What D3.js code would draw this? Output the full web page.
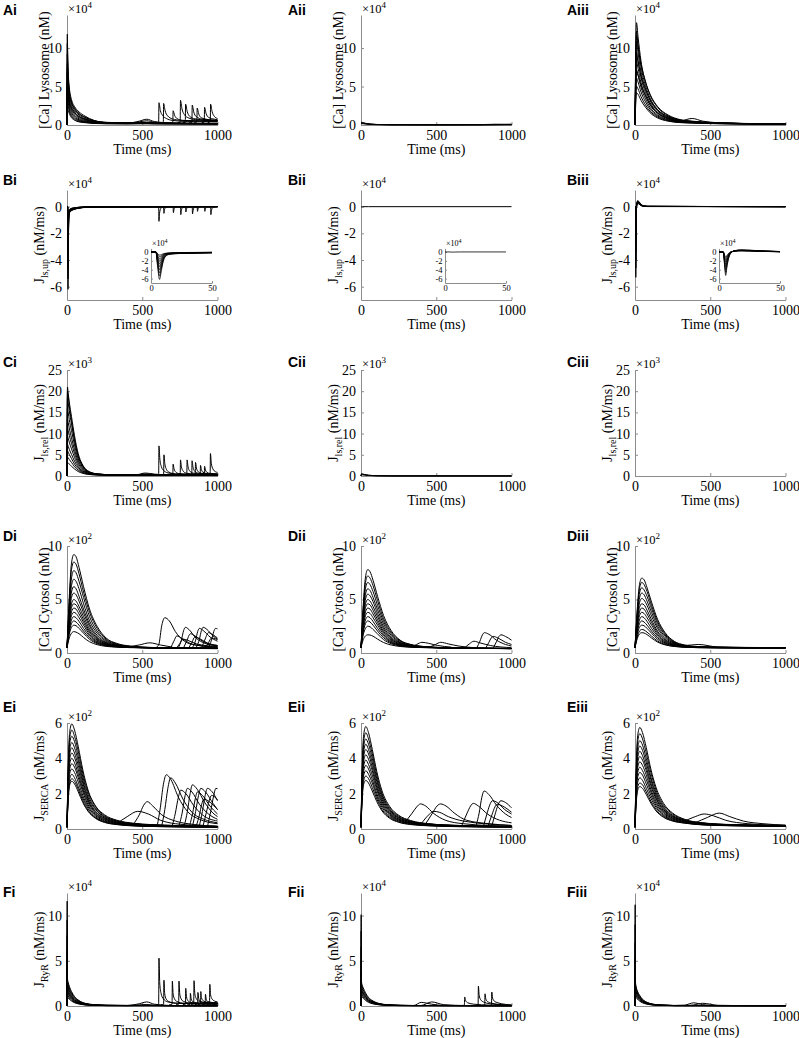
<!DOCTYPE html>
<html><head><meta charset="utf-8">
<script src="https://cdn.jsdelivr.net/npm/d3@7"></script>
<style>
body{margin:0;background:#fff}svg{display:block}
.serif{font-family:"Liberation Serif","Times New Roman","DejaVu Serif",serif}
.sans{font-family:"Liberation Sans",Arial,"DejaVu Sans",sans-serif}
</style>
</head><body><svg id="fig" width="799" height="1038"></svg>
<script>
// ---------------- DATA ----------------
const xTicks = [0, 500, 1000];
const insetXTicks = [0, 50];
const insetYTicks = [0, -2, -4, -6];
const rowLetters = ["A", "B", "C", "D", "E", "F"];
const colNumerals = ["i", "ii", "iii"];
const rowDomains = [[0, 14.3], [-7, 1.25], [0, 25], [0, 10], [0, 6], [0, 12.5]];
const rowTicks = [[0, 5, 10], [0, -2, -4, -6], [0, 5, 10, 15, 20, 25], [0, 5, 10], [0, 2, 4, 6], [0, 5, 10]];
const rowExponent = [4, 4, 3, 2, 2, 4];
const rowYLabelMain = ["[Ca] Lysosome (nM)", "J", "J", "[Ca] Cytosol (nM)", "J", "J"];
const rowYLabelSub = [null, "ls,up", "ls,rel", null, "SERCA", "RyR"];
const xLabel = "Time (ms)";

// ---- A: lysosome Ca (x10^4 nM)
const Ai_t = [0, 2, 4, 8, 15, 30, 50, 80, 120, 180, 260, 400, 480, 530, 580, 700, 850, 1000];
const Ai_traces = [
  [0, 11.8, 10, 7, 5, 3.3, 2.4, 1.7, 1.15, 0.6, 0.35, 0.28, 0.32, 0.35, 0.3, 0.25, 0.22, 0.2],
  [0, 10.6, 9, 6.4, 4.5, 3.0, 2.2, 1.5, 1.0, 0.55, 0.32, 0.26, 0.3, 0.3, 0.28, 0.24, 0.2, 0.2],
  [0, 9.2, 8, 5.8, 4.0, 2.7, 1.9, 1.3, 0.85, 0.48, 0.3, 0.25, 0.5, 0.75, 0.45, 0.25, 0.2, 0.18],
  [0, 8, 7, 5.2, 3.6, 2.4, 1.7, 1.1, 0.75, 0.42, 0.28, 0.24, 0.28, 0.3, 0.28, 0.22, 0.2, 0.18],
  [0, 6.8, 6, 4.6, 3.2, 2.1, 1.45, 0.95, 0.65, 0.38, 0.26, 0.22, 0.25, 0.27, 0.25, 0.2, 0.18, 0.16],
  [0, 5.6, 5, 4.0, 2.8, 1.85, 1.25, 0.8, 0.55, 0.33, 0.24, 0.2, 0.4, 0.55, 0.35, 0.2, 0.18, 0.16],
  [0, 4.6, 4.2, 3.4, 2.45, 1.6, 1.05, 0.68, 0.47, 0.3, 0.22, 0.2, 0.22, 0.22, 0.2, 0.18, 0.16, 0.15],
  [0, 3.6, 3.4, 2.9, 2.1, 1.35, 0.9, 0.58, 0.4, 0.26, 0.2, 0.18, 0.2, 0.2, 0.18, 0.16, 0.15, 0.14],
  [0, 2.8, 2.7, 2.4, 1.8, 1.15, 0.75, 0.48, 0.34, 0.23, 0.18, 0.16, 0.18, 0.18, 0.16, 0.15, 0.14, 0.13],
  [0, 2.0, 2.0, 1.9, 1.5, 0.95, 0.62, 0.4, 0.3, 0.2, 0.16, 0.15, 0.16, 0.16, 0.15, 0.14, 0.13, 0.12],
  [0, 7.4, 6.6, 5.4, 4.1, 2.9, 2.1, 1.45, 1.0, 0.55, 0.33, 0.26, 0.3, 0.3, 0.28, 0.22, 0.2, 0.18],
  [0, 5.0, 4.6, 3.9, 3.0, 2.2, 1.6, 1.1, 0.75, 0.42, 0.27, 0.22, 0.25, 0.26, 0.24, 0.2, 0.18, 0.16]
];
const Ai_events = [
  [[590,0.3],[609,0.35],[611,2.9],[620,1.9],[635,1.25],[660,0.85],[700,0.6],[800,0.45],[1000,0.4]],
  [[620,0.3],[640,0.35],[642,2.8],[652,1.85],[668,1.2],[700,0.8],[760,0.6],[1000,0.45]],
  [[685,0.3],[703,0.35],[705,1.85],[715,1.25],[730,0.85],[770,0.6],[1000,0.5]],
  [[735,0.3],[752,0.35],[754,3.2],[764,2.1],[780,1.35],[810,0.9],[870,0.65],[1000,0.55]],
  [[770,0.3],[786,0.35],[788,2.7],[798,1.8],[814,1.15],[850,0.8],[1000,0.55]],
  [[812,0.3],[830,0.35],[832,2.6],[842,1.7],[858,1.1],[900,0.75],[1000,0.6]],
  [[845,0.3],[863,0.4],[865,2.2],[875,1.45],[892,0.95],[940,0.7],[1000,0.6]],
  [[895,0.3],[912,0.4],[914,2.3],[924,1.5],[940,1.0],[980,0.75],[1000,0.7]],
  [[935,0.3],[952,0.45],[954,2.7],[964,1.75],[980,1.1],[1000,0.85]]
];
const Aii_t = [0, 5, 15, 30, 60, 100, 200, 400, 600, 800, 900, 1000];
const Aii_traces = [
  [0.3, 0.35, 0.3, 0.22, 0.12, 0.07, 0.04, 0.03, 0.03, 0.05, 0.1, 0.06],
  [0.2, 0.25, 0.22, 0.16, 0.1, 0.06, 0.03, 0.03, 0.03, 0.03, 0.04, 0.08],
  [0.15, 0.18, 0.16, 0.12, 0.07, 0.05, 0.03, 0.02, 0.02, 0.02, 0.03, 0.03],
  [0.25, 0.3, 0.26, 0.2, 0.12, 0.07, 0.04, 0.03, 0.03, 0.04, 0.06, 0.1]
];
const Aii_events = [];
const Aiii_t = [0, 4, 10, 20, 40, 70, 100, 150, 220, 300, 380, 450, 550, 700, 1000];
const Aiii_traces = [
  [0, 8, 13.3, 11.5, 8.3, 5.6, 3.9, 2.3, 1.2, 0.65, 0.45, 0.35, 0.28, 0.2, 0.15],
  [0, 7, 12.2, 10.5, 7.6, 5.1, 3.5, 2.0, 1.05, 0.6, 0.45, 0.33, 0.26, 0.2, 0.14],
  [0, 6.2, 10.8, 9.4, 6.9, 4.7, 3.2, 1.85, 0.95, 0.55, 0.85, 0.5, 0.3, 0.2, 0.14],
  [0, 5.4, 9.5, 8.4, 6.2, 4.2, 2.9, 1.65, 0.85, 0.5, 0.4, 0.3, 0.24, 0.18, 0.13],
  [0, 4.7, 8.3, 7.4, 5.5, 3.8, 2.6, 1.5, 0.78, 0.45, 0.36, 0.28, 0.22, 0.17, 0.12],
  [0, 4.1, 7.2, 6.5, 4.9, 3.4, 2.3, 1.32, 0.7, 0.42, 0.33, 0.26, 0.2, 0.16, 0.12],
  [0, 3.5, 6.1, 5.6, 4.3, 3.0, 2.05, 1.18, 0.62, 0.38, 0.3, 0.24, 0.19, 0.15, 0.11],
  [0, 2.9, 5.0, 4.7, 3.7, 2.6, 1.8, 1.04, 0.55, 0.34, 0.27, 0.22, 0.18, 0.14, 0.1],
  [0, 2.4, 4.2, 4.0, 3.2, 2.3, 1.6, 0.92, 0.5, 0.31, 0.25, 0.2, 0.17, 0.13, 0.1],
  [0, 6.6, 11.6, 10.2, 7.9, 5.6, 4.0, 2.4, 1.3, 0.7, 0.5, 0.38, 0.3, 0.21, 0.15],
  [0, 5.0, 9.0, 8.2, 6.4, 4.6, 3.3, 2.0, 1.1, 0.62, 0.46, 0.36, 0.28, 0.2, 0.14],
  [0, 3.8, 7.0, 6.5, 5.2, 3.8, 2.7, 1.6, 0.9, 0.52, 0.42, 0.32, 0.25, 0.18, 0.13]
];
const Aiii_events = [];

// ---- B: J_ls,up (x10^4 nM/ms)
const Bi_t = [0, 4, 5.5, 7, 8.5, 10, 12, 15, 20, 30, 50, 80, 130, 200, 1000];
const Bi_traces = [
  [0, 0, -3.5, -6.2, -4.2, -2.2, -1.0, -0.55, -0.4, -0.3, -0.2, -0.12, -0.05, -0.02, 0],
  [0, 0, -3.0, -5.4, -3.7, -1.9, -0.9, -0.5, -0.38, -0.28, -0.18, -0.1, -0.04, -0.02, 0],
  [0, 0, -2.6, -4.7, -3.2, -1.7, -0.8, -0.45, -0.35, -0.26, -0.17, -0.1, -0.04, -0.02, 0],
  [0, 0, -2.2, -4.0, -2.8, -1.5, -0.72, -0.42, -0.33, -0.24, -0.16, -0.09, -0.04, -0.02, 0],
  [0, 0, -1.8, -3.3, -2.3, -1.25, -0.62, -0.38, -0.3, -0.22, -0.14, -0.08, -0.03, -0.01, 0],
  [0, 0, -1.5, -2.7, -1.9, -1.05, -0.55, -0.35, -0.28, -0.2, -0.13, -0.07, -0.03, -0.01, 0],
  [0, 0, -1.2, -2.1, -1.5, -0.85, -0.48, -0.32, -0.25, -0.18, -0.12, -0.06, -0.03, -0.01, 0],
  [0, 0, -0.9, -1.6, -1.15, -0.7, -0.42, -0.3, -0.22, -0.16, -0.1, -0.05, -0.02, -0.01, 0],
  [0, 0, -0.6, -1.1, -0.85, -0.55, -0.36, -0.26, -0.2, -0.14, -0.09, -0.05, -0.02, -0.01, 0],
  [0, 0, -0.4, -0.7, -0.6, -0.42, -0.3, -0.22, -0.17, -0.12, -0.08, -0.04, -0.02, 0, 0]
];
const Bi_events = [
  [[597,0],[609,-0.02],[611,-1.1],[615,-0.5],[623,-0.13],[645,0]],
  [[630,0],[642,-0.02],[644,-0.5],[648,-0.22],[656,-0.06],[677,0]],
  [[693,0],[705,-0.02],[707,-0.45],[711,-0.2],[719,-0.05],[740,0]],
  [[742,0],[754,-0.02],[756,-0.6],[760,-0.27],[768,-0.07],[789,0]],
  [[776,0],[788,-0.02],[790,-0.4],[794,-0.18],[802,-0.05],[823,0]],
  [[820,0],[832,-0.02],[834,-0.55],[838,-0.25],[846,-0.07],[867,0]],
  [[853,0],[865,-0.02],[867,-0.35],[871,-0.16],[879,-0.04],[900,0]],
  [[902,0],[914,-0.02],[916,-0.35],[920,-0.16],[928,-0.04],[949,0]],
  [[942,0],[954,-0.02],[956,-0.6],[960,-0.27],[968,-0.07],[989,0]]
];
const Bii_t = [0, 4, 6, 8, 12, 50, 1000];
const Bii_traces = [[0, 0, -0.04, -0.02, 0, 0, 0]];
const Bii_events = [];
const Biii_t = [0, 3.5, 4.5, 5.5, 6.5, 8, 10, 13, 18, 25, 35, 50, 80, 1000];
const Biii_traces = [
  [0, 0, -2.8, -5.3, -3.4, -1.3, -0.2, 0.3, 0.45, 0.4, 0.25, 0.1, 0.03, 0],
  [0, 0, -2.4, -4.6, -3.0, -1.15, -0.15, 0.28, 0.42, 0.37, 0.23, 0.09, 0.03, 0],
  [0, 0, -2.1, -4.0, -2.6, -1.0, -0.1, 0.26, 0.4, 0.34, 0.21, 0.08, 0.02, 0],
  [0, 0, -1.8, -3.4, -2.2, -0.85, -0.05, 0.24, 0.37, 0.31, 0.19, 0.07, 0.02, 0],
  [0, 0, -1.5, -2.8, -1.8, -0.7, 0, 0.22, 0.34, 0.28, 0.17, 0.06, 0.02, 0],
  [0, 0, -1.2, -2.2, -1.45, -0.55, 0.02, 0.2, 0.3, 0.25, 0.15, 0.05, 0.02, 0],
  [0, 0, -0.9, -1.7, -1.1, -0.42, 0.04, 0.18, 0.27, 0.22, 0.13, 0.05, 0.01, 0],
  [0, 0, -0.65, -1.2, -0.8, -0.3, 0.05, 0.16, 0.24, 0.2, 0.12, 0.04, 0.01, 0]
];
const Biii_events = [];

// ---- C: J_ls,rel (x10^3 nM/ms)
const Ci_t = [0, 3, 8, 15, 30, 50, 75, 100, 135, 200, 300, 460, 520, 580, 700, 850, 1000];
const Ci_traces = [
  [0, 21, 19.5, 17.5, 14, 9.5, 5.2, 2.9, 1.3, 0.5, 0.3, 0.25, 0.3, 0.28, 0.22, 0.2, 0.18],
  [0, 20, 18.8, 16.6, 13.0, 8.6, 4.7, 2.6, 1.15, 0.48, 0.29, 0.25, 0.28, 0.27, 0.21, 0.19, 0.17],
  [0, 18.5, 17.2, 15.4, 12.3, 8.4, 4.6, 2.6, 1.2, 0.47, 0.28, 0.24, 0.28, 0.26, 0.2, 0.18, 0.16],
  [0, 16, 14.9, 13.3, 10.7, 7.3, 4.0, 2.3, 1.05, 0.44, 0.27, 0.3, 0.7, 0.45, 0.2, 0.18, 0.16],
  [0, 13.5, 12.6, 11.3, 9.0, 6.2, 3.5, 2.0, 0.95, 0.41, 0.26, 0.22, 0.25, 0.24, 0.2, 0.17, 0.15],
  [0, 11.5, 10.7, 9.6, 7.7, 5.3, 3.0, 1.75, 0.85, 0.38, 0.24, 0.2, 0.22, 0.22, 0.18, 0.16, 0.14],
  [0, 9.5, 8.9, 8.0, 6.4, 4.4, 2.5, 1.5, 0.75, 0.35, 0.22, 0.2, 0.5, 0.35, 0.18, 0.15, 0.14],
  [0, 7.5, 7.0, 6.3, 5.1, 3.5, 2.05, 1.25, 0.65, 0.32, 0.21, 0.18, 0.2, 0.2, 0.16, 0.14, 0.13],
  [0, 6.0, 5.6, 5.1, 4.1, 2.8, 1.7, 1.05, 0.56, 0.29, 0.2, 0.17, 0.19, 0.19, 0.15, 0.13, 0.12],
  [0, 4.5, 4.3, 3.9, 3.2, 2.2, 1.35, 0.85, 0.48, 0.26, 0.19, 0.16, 0.18, 0.18, 0.14, 0.12, 0.11],
  [0, 3.2, 3.1, 2.8, 2.3, 1.65, 1.05, 0.68, 0.4, 0.24, 0.18, 0.15, 0.17, 0.17, 0.13, 0.12, 0.1]
];
const Ci_events = [
  [[590,0.25],[609,0.3],[611,7.1],[617,4.0],[627,2.2],[645,1.2],[680,0.65],[760,0.4],[1000,0.3]],
  [[625,0.25],[642,0.3],[644,5.0],[650,2.9],[660,1.6],[678,0.9],[720,0.5],[1000,0.3]],
  [[685,0.25],[703,0.3],[705,2.8],[711,1.7],[721,1.0],[740,0.6],[800,0.4],[1000,0.3]],
  [[735,0.25],[752,0.3],[754,3.8],[760,2.2],[770,1.25],[790,0.7],[850,0.45],[1000,0.35]],
  [[780,0.25],[796,0.3],[798,3.8],[804,2.2],[814,1.25],[835,0.7],[900,0.45],[1000,0.35]],
  [[812,0.25],[829,0.3],[831,3.6],[837,2.1],[847,1.2],[868,0.7],[930,0.45],[1000,0.4]],
  [[835,0.25],[852,0.3],[854,3.2],[860,1.9],[870,1.1],[890,0.65],[950,0.45],[1000,0.4]],
  [[870,0.25],[885,0.3],[887,2.5],[893,1.5],[903,0.9],[925,0.6],[1000,0.45]],
  [[895,0.25],[912,0.3],[914,2.3],[920,1.4],[930,0.85],[950,0.6],[1000,0.5]],
  [[935,0.25],[951,0.3],[953,5.3],[959,3.0],[969,1.7],[987,1.0],[1000,0.85]]
];
const Cii_t = [0, 3, 10, 25, 50, 100, 200, 1000];
const Cii_traces = [
  [0, 0.55, 0.5, 0.35, 0.2, 0.08, 0.03, 0.02],
  [0, 0.4, 0.38, 0.28, 0.16, 0.07, 0.03, 0.02],
  [0, 0.28, 0.27, 0.2, 0.12, 0.05, 0.02, 0.02]
];
const Cii_events = [];
const Ciii_t = [0, 1000];
const Ciii_traces = [];
const Ciii_events = [];

// ---- D: cytosol Ca (x10^2 nM)
const Di_t = [0, 15, 30, 45, 60, 80, 110, 150, 200, 260, 330, 420, 550, 750, 1000];
const Di_traces = [
  [0.5, 5.2, 8.4, 9.2, 9.0, 8.0, 6.2, 4.1, 2.5, 1.4, 0.9, 0.65, 0.52, 0.48, 0.45],
  [0.5, 4.8, 7.8, 8.5, 8.3, 7.4, 5.7, 3.8, 2.3, 1.3, 0.85, 0.62, 0.52, 0.47, 0.45],
  [0.5, 4.4, 7.0, 7.7, 7.5, 6.7, 5.2, 3.4, 2.05, 1.2, 0.8, 0.6, 0.51, 0.47, 0.45],
  [0.5, 4.0, 6.3, 6.9, 6.7, 6.0, 4.6, 3.0, 1.85, 1.1, 0.75, 0.58, 0.5, 0.46, 0.44],
  [0.5, 3.6, 5.7, 6.2, 6.0, 5.3, 4.1, 2.7, 1.65, 1.0, 0.72, 0.57, 0.5, 0.46, 0.44],
  [0.5, 3.3, 5.2, 5.6, 5.45, 4.85, 3.75, 2.5, 1.5, 0.95, 0.7, 0.56, 0.5, 0.45, 0.43],
  [0.5, 3.0, 4.6, 5.0, 4.85, 4.35, 3.4, 2.25, 1.38, 0.9, 0.68, 0.55, 0.5, 0.45, 0.43],
  [0.5, 2.8, 4.25, 4.6, 4.5, 4.0, 3.1, 2.05, 1.28, 0.85, 0.66, 0.55, 0.5, 0.45, 0.43],
  [0.5, 2.6, 3.85, 4.2, 4.1, 3.65, 2.85, 1.9, 1.2, 0.8, 0.64, 0.54, 0.49, 0.45, 0.42],
  [0.5, 2.35, 3.5, 3.8, 3.7, 3.3, 2.6, 1.72, 1.1, 0.77, 0.62, 0.54, 0.49, 0.44, 0.42],
  [0.5, 2.15, 3.1, 3.4, 3.3, 2.95, 2.3, 1.58, 1.02, 0.74, 0.6, 0.53, 0.49, 0.44, 0.42],
  [0.5, 1.95, 2.75, 3.0, 2.9, 2.6, 2.05, 1.42, 0.95, 0.7, 0.58, 0.52, 0.48, 0.44, 0.42],
  [0.5, 1.75, 2.4, 2.6, 2.55, 2.3, 1.85, 1.28, 0.88, 0.67, 0.57, 0.52, 0.48, 0.44, 0.41],
  [0.5, 1.4, 1.85, 2.0, 1.95, 1.8, 1.45, 1.05, 0.78, 0.62, 0.55, 0.5, 0.47, 0.43, 0.41]
];
const Di_events = [
  [[400,0.55],[480,0.75],[550,0.95],[620,0.75],[700,0.55]],
  [[590,0.5],[610,0.8],[630,2.6],[650,3.3],[680,3.0],[720,2.0],[780,1.1],[850,0.75],[1000,0.55]],
  [[690,0.5],[710,1.1],[730,1.6],[760,1.4],[810,0.95],[880,0.7],[1000,0.55]],
  [[730,0.5],[750,0.9],[770,1.3],[800,1.2],[860,0.85],[1000,0.6]],
  [[740,0.5],[760,1.2],[775,2.1],[787,2.4],[810,2.2],[850,1.5],[900,1.0],[1000,0.65]],
  [[775,0.5],[795,1.1],[820,1.8],[850,1.6],[900,1.1],[1000,0.7]],
  [[810,0.5],[830,1.0],[850,1.5],[880,1.35],[930,0.95],[1000,0.7]],
  [[835,0.55],[855,1.2],[868,2.0],[880,2.3],[905,2.1],[950,1.5],[1000,1.1]],
  [[860,0.55],[880,1.3],[893,2.1],[905,2.4],[930,2.2],[970,1.6],[1000,1.3]],
  [[895,0.5],[915,1.2],[940,1.9],[970,1.7],[1000,1.4]],
  [[920,0.5],[940,0.95],[960,1.4],[990,1.3],[1000,1.25]],
  [[940,0.5],[960,1.2],[975,2.0],[987,2.3],[1000,2.25]]
];
const Dii_t = [0, 15, 30, 45, 60, 80, 110, 150, 200, 260, 330, 420, 550, 750, 1000];
const Dii_traces = [
  [0.5, 4.5, 7.1, 7.8, 7.6, 6.8, 5.3, 3.5, 2.1, 1.2, 0.8, 0.6, 0.5, 0.45, 0.42],
  [0.5, 4.2, 6.6, 7.2, 7.0, 6.3, 4.9, 3.2, 1.95, 1.15, 0.78, 0.6, 0.5, 0.45, 0.42],
  [0.5, 3.85, 6.05, 6.6, 6.4, 5.75, 4.45, 2.95, 1.8, 1.08, 0.75, 0.58, 0.5, 0.45, 0.42],
  [0.5, 3.5, 5.5, 6.0, 5.85, 5.2, 4.05, 2.7, 1.65, 1.0, 0.72, 0.57, 0.5, 0.45, 0.42],
  [0.5, 3.25, 5.05, 5.5, 5.35, 4.8, 3.7, 2.45, 1.5, 0.95, 0.7, 0.56, 0.49, 0.45, 0.42],
  [0.5, 3.0, 4.6, 5.0, 4.85, 4.35, 3.4, 2.25, 1.38, 0.9, 0.68, 0.55, 0.49, 0.44, 0.42],
  [0.5, 2.8, 4.25, 4.6, 4.5, 4.0, 3.1, 2.05, 1.28, 0.85, 0.66, 0.55, 0.49, 0.44, 0.42],
  [0.5, 2.6, 3.85, 4.2, 4.1, 3.65, 2.85, 1.9, 1.2, 0.8, 0.64, 0.54, 0.49, 0.44, 0.41],
  [0.5, 2.35, 3.5, 3.8, 3.7, 3.3, 2.6, 1.72, 1.1, 0.77, 0.62, 0.54, 0.48, 0.44, 0.41],
  [0.5, 2.15, 3.1, 3.4, 3.3, 2.95, 2.3, 1.58, 1.02, 0.74, 0.6, 0.53, 0.48, 0.44, 0.41],
  [0.5, 1.95, 2.75, 3.0, 2.9, 2.6, 2.05, 1.42, 0.95, 0.7, 0.58, 0.52, 0.48, 0.44, 0.41],
  [0.5, 1.7, 2.3, 2.5, 2.45, 2.2, 1.78, 1.25, 0.87, 0.66, 0.56, 0.51, 0.47, 0.43, 0.41],
  [0.5, 1.25, 1.6, 1.7, 1.68, 1.57, 1.3, 0.98, 0.75, 0.61, 0.54, 0.5, 0.47, 0.43, 0.41]
];
const Dii_events = [
  [[330,0.55],[370,0.8],[405,1.0],[450,0.9],[510,0.7],[600,0.55]],
  [[450,0.5],[495,0.8],[530,1.0],[580,0.85],[650,0.65],[750,0.5]],
  [[690,0.5],[720,0.85],[750,1.1],[790,0.95],[860,0.7],[1000,0.5]],
  [[770,0.5],[790,1.1],[807,1.7],[820,1.9],[850,1.75],[900,1.2],[960,0.8],[1000,0.65]],
  [[830,0.5],[850,1.0],[865,1.4],[878,1.55],[910,1.4],[960,1.0],[1000,0.8]],
  [[880,0.5],[900,1.05],[917,1.55],[930,1.7],[960,1.55],[1000,1.2]]
];
const Diii_t = [0, 15, 30, 45, 60, 80, 110, 150, 200, 260, 330, 420, 550, 750, 1000];
const Diii_traces = [
  [0.5, 4.1, 6.4, 7.0, 6.85, 6.1, 4.75, 3.15, 1.9, 1.1, 0.75, 0.6, 0.55, 0.52, 0.5],
  [0.5, 3.85, 6.05, 6.6, 6.4, 5.75, 4.45, 2.95, 1.8, 1.05, 0.72, 0.58, 0.54, 0.51, 0.5],
  [0.5, 3.6, 5.6, 6.1, 5.9, 5.3, 4.15, 2.75, 1.68, 1.0, 0.7, 0.8, 0.56, 0.51, 0.5],
  [0.5, 3.3, 5.15, 5.6, 5.45, 4.85, 3.8, 2.5, 1.55, 0.95, 0.68, 0.57, 0.53, 0.5, 0.49],
  [0.5, 3.05, 4.7, 5.1, 4.95, 4.45, 3.45, 2.3, 1.42, 0.9, 0.66, 0.56, 0.52, 0.5, 0.49],
  [0.5, 2.8, 4.25, 4.6, 4.5, 4.0, 3.1, 2.05, 1.28, 0.85, 0.64, 0.55, 0.52, 0.5, 0.49],
  [0.5, 2.6, 3.85, 4.2, 4.1, 3.65, 2.85, 1.9, 1.2, 0.8, 0.62, 0.54, 0.51, 0.49, 0.48],
  [0.5, 2.35, 3.5, 3.8, 3.7, 3.3, 2.6, 1.72, 1.1, 0.77, 0.6, 0.53, 0.51, 0.49, 0.48],
  [0.5, 2.15, 3.1, 3.4, 3.3, 2.95, 2.3, 1.58, 1.02, 0.74, 0.58, 0.52, 0.5, 0.48, 0.48],
  [0.5, 1.95, 2.75, 3.0, 2.9, 2.6, 2.05, 1.42, 0.95, 0.7, 0.57, 0.52, 0.5, 0.48, 0.47],
  [0.5, 1.75, 2.4, 2.6, 2.55, 2.3, 1.85, 1.28, 0.88, 0.67, 0.56, 0.51, 0.49, 0.48, 0.47],
  [0.5, 1.5, 2.05, 2.2, 2.15, 1.95, 1.58, 1.12, 0.8, 0.63, 0.55, 0.5, 0.49, 0.47, 0.47],
  [0.5, 1.35, 1.78, 1.9, 1.87, 1.72, 1.4, 1.02, 0.76, 0.61, 0.54, 0.5, 0.48, 0.47, 0.46]
];
const Diii_events = [];

// ---- E: J_SERCA (x10^2 nM/ms)
const Ei_t = [0, 8, 18, 32, 50, 75, 105, 140, 190, 250, 330, 450, 650, 1000];
const Ei_traces = [
  [0.1, 3.6, 5.5, 5.95, 5.6, 4.65, 3.35, 2.2, 1.3, 0.8, 0.5, 0.32, 0.22, 0.15],
  [0.1, 3.4, 5.15, 5.6, 5.25, 4.4, 3.15, 2.1, 1.25, 0.75, 0.47, 0.3, 0.21, 0.15],
  [0.1, 3.2, 4.85, 5.25, 4.95, 4.1, 2.95, 1.95, 1.15, 0.7, 0.45, 0.29, 0.2, 0.14],
  [0.1, 3.0, 4.5, 4.9, 4.6, 3.85, 2.75, 1.8, 1.1, 0.66, 0.42, 0.27, 0.19, 0.14],
  [0.1, 2.8, 4.25, 4.6, 4.3, 3.6, 2.6, 1.7, 1.0, 0.62, 0.4, 0.26, 0.18, 0.13],
  [0.1, 2.6, 3.95, 4.3, 4.05, 3.35, 2.4, 1.6, 0.95, 0.58, 0.37, 0.25, 0.17, 0.13],
  [0.1, 2.4, 3.7, 4.0, 3.75, 3.1, 2.25, 1.5, 0.88, 0.54, 0.35, 0.23, 0.16, 0.12],
  [0.1, 2.25, 3.4, 3.7, 3.5, 2.9, 2.1, 1.37, 0.82, 0.5, 0.33, 0.22, 0.16, 0.12],
  [0.1, 2.05, 3.15, 3.4, 3.2, 2.65, 1.9, 1.26, 0.75, 0.46, 0.3, 0.2, 0.15, 0.11],
  [0.1, 1.9, 2.85, 3.1, 2.9, 2.4, 1.75, 1.15, 0.68, 0.42, 0.28, 0.19, 0.14, 0.11],
  [0.1, 1.75, 2.6, 2.85, 2.7, 2.25, 1.6, 1.05, 0.63, 0.39, 0.26, 0.18, 0.13, 0.1],
  [0.1, 1.65, 2.5, 2.7, 2.55, 2.1, 1.5, 1.0, 0.6, 0.37, 0.25, 0.17, 0.13, 0.1]
];
const Ei_events = [
  [[330,0.3],[400,0.7],[470,1.0],[540,0.85],[620,0.5],[720,0.3],[1000,0.15]],
  [[440,0.25],[480,0.8],[510,1.35],[533,1.55],[570,1.3],[630,0.8],[720,0.45],[850,0.25],[1000,0.15]],
  [[600,0.2],[620,1.2],[640,2.5],[660,3.07],[690,2.8],[740,1.8],[800,1.0],[880,0.55],[1000,0.3]],
  [[630,0.2],[650,1.1],[670,2.3],[689,2.9],[720,2.6],[770,1.7],[830,0.95],[910,0.55],[1000,0.35]],
  [[700,0.2],[720,0.9],[740,1.8],[756,2.2],[790,2.0],[840,1.35],[900,0.8],[1000,0.45]],
  [[745,0.2],[765,0.9],[785,1.9],[800,2.3],[830,2.1],[880,1.4],[940,0.85],[1000,0.55]],
  [[780,0.2],[800,1.0],[818,2.0],[833,2.5],[865,2.25],[915,1.5],[970,0.9],[1000,0.7]],
  [[815,0.2],[835,0.9],[852,1.7],[867,2.1],[900,1.9],[950,1.3],[1000,0.85]],
  [[835,0.2],[855,1.0],[874,1.9],[889,2.3],[920,2.1],[970,1.45],[1000,1.1]],
  [[860,0.2],[880,0.8],[895,1.4],[910,1.7],[945,1.55],[1000,1.1]],
  [[880,0.2],[900,1.0],[918,1.9],[933,2.3],[965,2.1],[1000,1.6]],
  [[905,0.2],[925,0.9],[945,1.6],[960,1.9],[990,1.75],[1000,1.65]],
  [[935,0.2],[955,1.0],[975,1.9],[989,2.3],[1000,2.28]]
];
const Eii_t = [0, 8, 18, 32, 50, 75, 105, 140, 190, 250, 330, 450, 650, 1000];
const Eii_traces = [
  [0.1, 3.5, 5.35, 5.8, 5.45, 4.5, 3.25, 2.15, 1.28, 0.78, 0.48, 0.3, 0.2, 0.15],
  [0.1, 3.3, 5.0, 5.45, 5.1, 4.25, 3.05, 2.0, 1.2, 0.73, 0.45, 0.29, 0.2, 0.15],
  [0.1, 3.1, 4.7, 5.1, 4.8, 4.0, 2.85, 1.9, 1.12, 0.68, 0.43, 0.28, 0.19, 0.14],
  [0.1, 2.9, 4.4, 4.8, 4.5, 3.75, 2.7, 1.78, 1.06, 0.64, 0.41, 0.27, 0.19, 0.14],
  [0.1, 2.7, 4.15, 4.5, 4.25, 3.5, 2.5, 1.66, 1.0, 0.6, 0.38, 0.25, 0.18, 0.13],
  [0.1, 2.55, 3.85, 4.2, 3.95, 3.3, 2.35, 1.55, 0.93, 0.56, 0.36, 0.24, 0.17, 0.13],
  [0.1, 2.35, 3.6, 3.9, 3.65, 3.05, 2.2, 1.44, 0.86, 0.52, 0.34, 0.23, 0.16, 0.12],
  [0.1, 2.2, 3.3, 3.6, 3.4, 2.8, 2.0, 1.33, 0.8, 0.49, 0.32, 0.22, 0.16, 0.12],
  [0.1, 2.0, 3.05, 3.3, 3.1, 2.6, 1.85, 1.22, 0.73, 0.45, 0.3, 0.2, 0.15, 0.11],
  [0.1, 1.85, 2.75, 3.0, 2.85, 2.35, 1.7, 1.1, 0.66, 0.41, 0.27, 0.19, 0.14, 0.11],
  [0.1, 1.7, 2.55, 2.75, 2.6, 2.15, 1.55, 1.02, 0.61, 0.38, 0.25, 0.18, 0.13, 0.1]
];
const Eii_events = [
  [[290,0.35],[340,0.9],[370,1.25],[395,1.42],[430,1.3],[480,0.9],[560,0.5],[680,0.3],[1000,0.15]],
  [[400,0.3],[450,0.8],[480,1.0],[520,0.95],[580,0.7],[680,0.45],[1000,0.2]],
  [[430,0.3],[475,0.9],[505,1.3],[529,1.42],[565,1.3],[620,0.9],[700,0.5],[850,0.3],[1000,0.2]],
  [[670,0.2],[705,0.9],[728,1.3],[746,1.45],[780,1.3],[840,0.85],[920,0.5],[1000,0.35]],
  [[765,0.2],[785,0.9],[803,1.8],[818,2.15],[850,1.95],[900,1.35],[960,0.85],[1000,0.65]],
  [[815,0.2],[835,0.8],[855,1.35],[873,1.6],[905,1.5],[955,1.1],[1000,0.85]],
  [[845,0.2],[870,0.8],[890,1.25],[905,1.4],[940,1.3],[1000,0.95]],
  [[870,0.2],[890,0.8],[910,1.35],[929,1.6],[960,1.5],[1000,1.2]]
];
const Eiii_t = [0, 8, 18, 32, 50, 75, 105, 140, 190, 250, 330, 450, 650, 1000];
const Eiii_traces = [
  [0.1, 3.45, 5.3, 5.75, 5.45, 4.6, 3.4, 2.35, 1.45, 0.9, 0.55, 0.35, 0.25, 0.2],
  [0.1, 3.25, 4.95, 5.4, 5.1, 4.3, 3.2, 2.2, 1.35, 0.85, 0.52, 0.34, 0.24, 0.2],
  [0.1, 3.0, 4.6, 5.0, 4.75, 4.0, 2.95, 2.05, 1.25, 0.78, 0.5, 0.33, 0.24, 0.19],
  [0.1, 2.8, 4.3, 4.7, 4.45, 3.75, 2.8, 1.92, 1.18, 0.74, 0.48, 0.32, 0.23, 0.19],
  [0.1, 2.65, 4.05, 4.4, 4.15, 3.5, 2.6, 1.8, 1.1, 0.7, 0.46, 0.3, 0.22, 0.18],
  [0.1, 2.45, 3.75, 4.1, 3.9, 3.3, 2.45, 1.7, 1.03, 0.66, 0.44, 0.29, 0.22, 0.18],
  [0.1, 2.3, 3.5, 3.8, 3.6, 3.05, 2.25, 1.57, 0.96, 0.62, 0.42, 0.28, 0.21, 0.17],
  [0.1, 2.1, 3.2, 3.5, 3.3, 2.8, 2.1, 1.45, 0.9, 0.58, 0.4, 0.27, 0.2, 0.17],
  [0.1, 1.95, 2.95, 3.2, 3.05, 2.55, 1.92, 1.33, 0.83, 0.54, 0.38, 0.26, 0.2, 0.16],
  [0.1, 1.75, 2.65, 2.9, 2.75, 2.3, 1.75, 1.22, 0.76, 0.5, 0.36, 0.25, 0.19, 0.16],
  [0.1, 1.6, 2.4, 2.6, 2.5, 2.1, 1.58, 1.1, 0.7, 0.47, 0.34, 0.24, 0.19, 0.16],
  [0.1, 1.45, 2.2, 2.4, 2.3, 1.95, 1.47, 1.02, 0.66, 0.45, 0.33, 0.23, 0.18, 0.15]
];
const Eiii_events = [
  [[330,0.45],[400,0.7],[460,0.85],[520,0.75],[600,0.5],[750,0.3],[1000,0.2]],
  [[400,0.35],[480,0.65],[560,0.9],[630,0.7],[720,0.45],[850,0.3],[1000,0.22]]
];

// ---- F: J_RyR (x10^4 nM/ms)
const Fi_t = [0, 1, 2, 4, 8, 15, 30, 50, 80, 120, 180, 260, 400, 480, 530, 580, 700, 1000];
const Fi_traces = [
  [0, 11.6, 4, 2.9, 2.6, 2.2, 1.6, 1.05, 0.6, 0.3, 0.15, 0.08, 0.06, 0.1, 0.15, 0.08, 0.05, 0.05],
  [0, 9.5, 3.5, 2.7, 2.4, 2.0, 1.45, 0.95, 0.55, 0.28, 0.14, 0.08, 0.06, 0.08, 0.1, 0.07, 0.05, 0.05],
  [0, 7.8, 3.2, 2.5, 2.2, 1.85, 1.3, 0.85, 0.5, 0.25, 0.13, 0.07, 0.06, 0.25, 0.45, 0.2, 0.05, 0.05],
  [0, 6.2, 2.8, 2.3, 2.0, 1.65, 1.15, 0.75, 0.45, 0.23, 0.12, 0.07, 0.05, 0.07, 0.08, 0.06, 0.05, 0.04],
  [0, 5.0, 2.5, 2.1, 1.8, 1.5, 1.05, 0.68, 0.4, 0.21, 0.11, 0.06, 0.05, 0.06, 0.07, 0.06, 0.04, 0.04],
  [0, 4.0, 2.2, 1.9, 1.6, 1.35, 0.95, 0.6, 0.36, 0.19, 0.1, 0.06, 0.05, 0.06, 0.06, 0.05, 0.04, 0.04],
  [0, 3.2, 2.0, 1.7, 1.45, 1.2, 0.85, 0.55, 0.32, 0.17, 0.09, 0.05, 0.04, 0.05, 0.05, 0.05, 0.04, 0.04],
  [0, 2.5, 1.7, 1.5, 1.3, 1.05, 0.75, 0.48, 0.28, 0.15, 0.08, 0.05, 0.04, 0.05, 0.05, 0.04, 0.04, 0.03],
  [0, 2.0, 1.4, 1.25, 1.1, 0.9, 0.65, 0.42, 0.25, 0.13, 0.07, 0.05, 0.04, 0.04, 0.04, 0.04, 0.03, 0.03],
  [0, 1.5, 1.1, 1.0, 0.9, 0.75, 0.55, 0.36, 0.22, 0.12, 0.07, 0.04, 0.04, 0.04, 0.04, 0.04, 0.03, 0.03]
];
const Fi_events = [
  [[590,0.15],[609,0.2],[611,5.3],[616,2.6],[625,1.4],[640,0.8],[670,0.45],[750,0.3],[1000,0.2]],
  [[625,0.15],[642,0.2],[644,2.85],[649,1.4],[658,0.8],[675,0.5],[720,0.3],[1000,0.2]],
  [[680,0.15],[698,0.2],[700,2.75],[705,1.35],[714,0.8],[730,0.5],[780,0.3],[1000,0.22]],
  [[725,0.15],[742,0.2],[744,2.75],[749,1.35],[758,0.8],[775,0.5],[830,0.32],[1000,0.25]],
  [[770,0.15],[787,0.2],[789,1.95],[794,1.0],[803,0.6],[820,0.4],[880,0.3],[1000,0.25]],
  [[800,0.15],[818,0.2],[820,1.4],[825,0.8],[834,0.5],[860,0.35],[1000,0.28]],
  [[825,0.15],[842,0.25],[844,2.8],[849,1.4],[858,0.85],[875,0.55],[930,0.35],[1000,0.3]],
  [[850,0.15],[868,0.25],[870,1.5],[875,0.85],[884,0.55],[910,0.38],[1000,0.3]],
  [[870,0.15],[887,0.25],[889,1.6],[894,0.9],[903,0.6],[930,0.42],[1000,0.35]],
  [[900,0.15],[918,0.25],[920,1.3],[925,0.75],[934,0.5],[960,0.4],[1000,0.35]],
  [[930,0.15],[947,0.25],[949,2.4],[954,1.25],[963,0.8],[980,0.55],[1000,0.45]]
];
const Fii_t = [0, 1, 2, 4, 8, 15, 30, 50, 80, 120, 180, 260, 350, 400, 470, 550, 700, 1000];
const Fii_traces = [
  [0, 10.1, 3.6, 2.6, 2.3, 2.0, 1.45, 0.95, 0.55, 0.28, 0.14, 0.08, 0.06, 0.4, 0.2, 0.06, 0.05, 0.04],
  [0, 8.3, 3.2, 2.4, 2.1, 1.8, 1.3, 0.85, 0.5, 0.25, 0.13, 0.07, 0.05, 0.06, 0.45, 0.15, 0.05, 0.04],
  [0, 6.5, 2.8, 2.2, 1.9, 1.6, 1.15, 0.75, 0.45, 0.23, 0.12, 0.07, 0.05, 0.05, 0.06, 0.05, 0.04, 0.04],
  [0, 5.0, 2.5, 2.0, 1.7, 1.45, 1.05, 0.68, 0.4, 0.21, 0.11, 0.06, 0.05, 0.05, 0.05, 0.05, 0.04, 0.03],
  [0, 3.8, 2.2, 1.8, 1.55, 1.3, 0.95, 0.6, 0.36, 0.19, 0.1, 0.06, 0.05, 0.05, 0.05, 0.04, 0.04, 0.03],
  [0, 2.9, 1.9, 1.6, 1.4, 1.15, 0.85, 0.55, 0.32, 0.17, 0.09, 0.05, 0.04, 0.04, 0.04, 0.04, 0.03, 0.03],
  [0, 2.2, 1.6, 1.4, 1.2, 1.0, 0.75, 0.48, 0.28, 0.15, 0.08, 0.05, 0.04, 0.04, 0.04, 0.04, 0.03, 0.03],
  [0, 1.6, 1.3, 1.15, 1.0, 0.85, 0.62, 0.4, 0.24, 0.13, 0.07, 0.04, 0.04, 0.04, 0.04, 0.03, 0.03, 0.03]
];
const Fii_events = [
  [[670,0.05],[687,0.1],[689,1.0],[695,0.6],[710,0.35],[750,0.2],[850,0.1],[1000,0.05]],
  [[760,0.05],[778,0.1],[780,2.2],[785,1.2],[795,0.7],[820,0.4],[880,0.2],[1000,0.1]],
  [[805,0.05],[822,0.1],[824,1.35],[829,0.8],[840,0.5],[870,0.3],[930,0.15],[1000,0.08]],
  [[850,0.05],[867,0.1],[869,1.55],[874,0.9],[885,0.55],[910,0.35],[960,0.18],[1000,0.1]]
];
const Fiii_t = [0, 1, 2, 4, 8, 15, 30, 50, 80, 120, 180, 260, 330, 390, 450, 550, 700, 1000];
const Fiii_traces = [
  [0, 11.2, 3.8, 2.5, 2.1, 1.7, 1.2, 0.75, 0.4, 0.2, 0.1, 0.06, 0.05, 0.05, 0.05, 0.04, 0.04, 0.03],
  [0, 9.0, 3.3, 2.3, 1.95, 1.6, 1.1, 0.7, 0.38, 0.19, 0.1, 0.06, 0.1, 0.35, 0.15, 0.05, 0.04, 0.03],
  [0, 7.0, 2.9, 2.1, 1.8, 1.45, 1.0, 0.63, 0.35, 0.18, 0.09, 0.05, 0.05, 0.12, 0.3, 0.08, 0.04, 0.03],
  [0, 5.4, 2.5, 1.9, 1.6, 1.3, 0.9, 0.57, 0.32, 0.16, 0.08, 0.05, 0.05, 0.05, 0.05, 0.04, 0.04, 0.03],
  [0, 4.2, 2.2, 1.7, 1.45, 1.18, 0.82, 0.52, 0.29, 0.15, 0.08, 0.05, 0.04, 0.04, 0.04, 0.04, 0.03, 0.03],
  [0, 3.2, 1.9, 1.5, 1.3, 1.05, 0.74, 0.47, 0.26, 0.14, 0.07, 0.04, 0.04, 0.04, 0.04, 0.03, 0.03, 0.03],
  [0, 2.4, 1.6, 1.3, 1.12, 0.92, 0.65, 0.41, 0.23, 0.12, 0.07, 0.04, 0.04, 0.04, 0.04, 0.03, 0.03, 0.03],
  [0, 1.7, 1.3, 1.1, 0.95, 0.78, 0.55, 0.35, 0.2, 0.11, 0.06, 0.04, 0.04, 0.04, 0.04, 0.03, 0.03, 0.03]
];
const Fiii_events = [];

// table assembled from the arrays above
const panelTable = {
  Ai: [Ai_t, Ai_traces, Ai_events], Aii: [Aii_t, Aii_traces, Aii_events], Aiii: [Aiii_t, Aiii_traces, Aiii_events],
  Bi: [Bi_t, Bi_traces, Bi_events], Bii: [Bii_t, Bii_traces, Bii_events], Biii: [Biii_t, Biii_traces, Biii_events],
  Ci: [Ci_t, Ci_traces, Ci_events], Cii: [Cii_t, Cii_traces, Cii_events], Ciii: [Ciii_t, Ciii_traces, Ciii_events],
  Di: [Di_t, Di_traces, Di_events], Dii: [Dii_t, Dii_traces, Dii_events], Diii: [Diii_t, Diii_traces, Diii_events],
  Ei: [Ei_t, Ei_traces, Ei_events], Eii: [Eii_t, Eii_traces, Eii_events], Eiii: [Eiii_t, Eiii_traces, Eiii_events],
  Fi: [Fi_t, Fi_traces, Fi_events], Fii: [Fii_t, Fii_traces, Fii_events], Fiii: [Fiii_t, Fiii_traces, Fiii_events]
};

// ---------------- LAYOUT ----------------
const colAxisX = [67, 361, 635];
const colLabelX = [3, 288, 567];
const plotW = 150.5;
const rowTop = [15, 190, 370, 546, 723, 893];
const rowBottom = [125, 300, 476, 653, 829, 1006];
const rowLabelY = [15, 185, 367, 541, 712, 897];
const inset = { dx0: 84, dx1: 145, yTop: 248.4, yBot: 283, dom: [-7, 0.8], tMax: 50 };

const AXIS_COL = "#8c8c8c";
const FS = 14;

const svg = d3.select("#fig");
svg.append("rect").attr("width", 799).attr("height", 1038).attr("fill", "#fff");

function styleAxis(g, fs) {
  g.attr("font-family", null).attr("font-size", null).attr("class", "serif")
   .style("font-size", fs + "px");
  g.select(".domain").attr("stroke", AXIS_COL).attr("stroke-width", 1);
  g.selectAll(".tick line").attr("stroke", AXIS_COL);
  g.selectAll(".tick text").attr("fill", "#000");
}

function drawSeries(g, xs, ys, tArr, traces, events, tMax, sw) {
  const gen = d3.line().x(d => xs(d[0])).y(d => ys(d[1])).curve(d3.curveMonotoneX);
  const all = traces.map(v => tArr.map((t, i) => [t, v[i]])).concat(events);
  all.forEach(pts => {
    const p = tMax ? pts.filter(d => d[0] <= tMax) : pts;
    if (p.length < 2) return;
    g.append("path").attr("d", gen(p)).attr("fill", "none")
      .attr("stroke", "#000").attr("stroke-width", sw).attr("stroke-linejoin", "round");
  });
}

const fmt = d => String(d);

rowLetters.forEach((L, r) => {
  colNumerals.forEach((N, c) => {
    const key = L + N;
    const [tArr, traces, events] = panelTable[key];
    const x0 = colAxisX[c], x1 = x0 + plotW;
    const xs = d3.scaleLinear().domain([0, 1000]).range([x0, x1]);
    const ys = d3.scaleLinear().domain(rowDomains[r]).range([rowBottom[r], rowTop[r]]);

    const gx = svg.append("g").attr("transform", `translate(0,${rowBottom[r]})`)
      .call(d3.axisBottom(xs).tickValues(xTicks).tickSizeInner(-3).tickSizeOuter(0).tickPadding(5.5).tickFormat(fmt));
    styleAxis(gx, FS);
    const gy = svg.append("g").attr("transform", `translate(${x0},0)`)
      .call(d3.axisLeft(ys).tickValues(rowTicks[r]).tickSizeInner(-3).tickSizeOuter(0).tickPadding(5).tickFormat(fmt));
    styleAxis(gy, FS);

    const gd = svg.append("g");
    drawSeries(gd, xs, ys, tArr, traces, events, null, 1);

    // exponent label
    const m = svg.append("text").attr("class", "serif").attr("x", x0 + 1).attr("y", rowTop[r] - 2)
      .style("font-size", "12.5px").attr("fill", "#000");
    m.append("tspan").text("\u00d710");
    m.append("tspan").attr("dy", -5).style("font-size", "9px").text(rowExponent[r]);

    // y label
    const sub = rowYLabelSub[r];
    const yl = svg.append("text").attr("class", "serif").attr("transform", "rotate(-90)")
      .attr("x", -(rowTop[r] + rowBottom[r]) / 2).attr("y", x0 - (sub ? 23 : 18))
      .attr("text-anchor", "middle").style("font-size", FS + "px").attr("fill", "#000");
    if (sub) {
      yl.append("tspan").text(rowYLabelMain[r]);
      yl.append("tspan").attr("dy", 3.5).style("font-size", "10px").text(sub);
      yl.append("tspan").attr("dy", -3.5).text(" (nM/ms)");
    } else {
      yl.text(rowYLabelMain[r]);
    }

    // x label
    svg.append("text").attr("class", "serif").attr("x", (x0 + x1) / 2).attr("y", rowBottom[r] + 29)
      .attr("text-anchor", "middle").style("font-size", FS + "px").attr("fill", "#000").text(xLabel);

    // panel label
    svg.append("text").attr("class", "sans").attr("x", colLabelX[c]).attr("y", rowLabelY[r])
      .style("font-weight", "bold").style("font-size", "14px").attr("fill", "#000").text(key);

    // inset for row B
    if (L === "B") {
      const ix0 = x0 + inset.dx0, ix1 = x0 + inset.dx1;
      const ixs = d3.scaleLinear().domain([0, inset.tMax]).range([ix0, ix1]);
      const iys = d3.scaleLinear().domain(inset.dom).range([inset.yBot, inset.yTop]);
      const clipId = "clip" + key;
      svg.append("clipPath").attr("id", clipId).append("rect")
        .attr("x", ix0).attr("y", inset.yTop - 2).attr("width", ix1 - ix0).attr("height", inset.yBot - inset.yTop + 2);
      const igx = svg.append("g").attr("transform", `translate(0,${inset.yBot})`)
        .call(d3.axisBottom(ixs).tickValues(insetXTicks).tickSizeInner(-2).tickSizeOuter(0).tickPadding(2).tickFormat(fmt));
      styleAxis(igx, 8.5);
      const igy = svg.append("g").attr("transform", `translate(${ix0},0)`)
        .call(d3.axisLeft(iys).tickValues(insetYTicks).tickSizeInner(-2).tickSizeOuter(0).tickPadding(2.5).tickFormat(fmt));
      styleAxis(igy, 8.5);
      const ig = svg.append("g").attr("clip-path", `url(#${clipId})`);
      drawSeries(ig, ixs, iys, tArr, traces, [], inset.tMax, 0.8);
      const im = svg.append("text").attr("class", "serif").attr("x", ix0 + 1).attr("y", inset.yTop - 2)
        .style("font-size", "8px").attr("fill", "#000");
      im.append("tspan").text("\u00d710");
      im.append("tspan").attr("dy", -3).style("font-size", "6px").text(rowExponent[r]);
    }
  });
});
</script></body></html>
